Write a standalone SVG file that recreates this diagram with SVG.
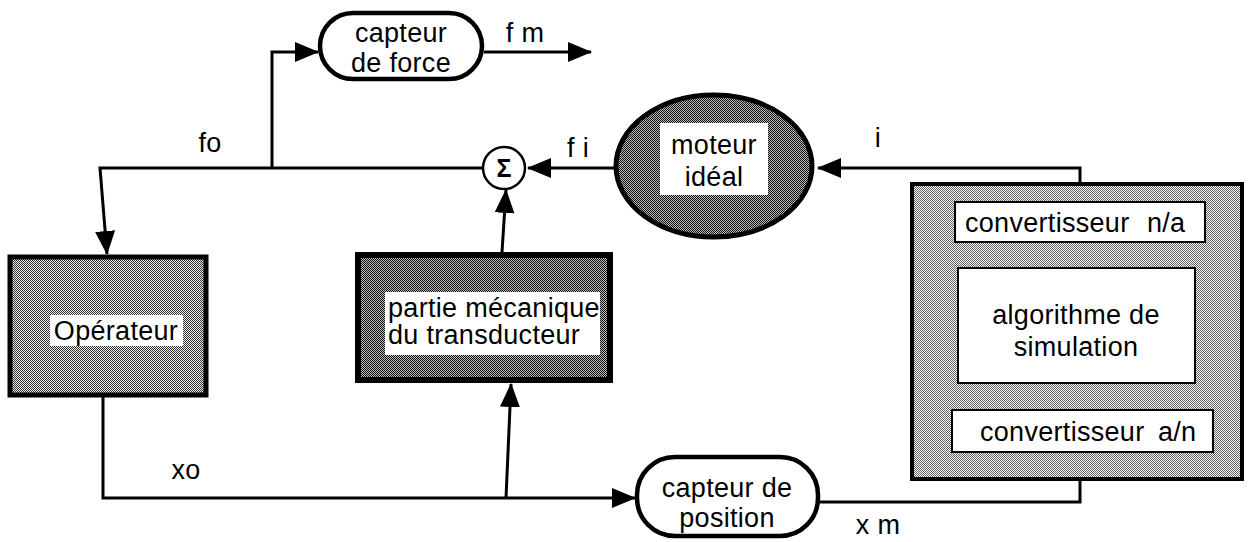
<svg xmlns="http://www.w3.org/2000/svg" width="1248" height="542" viewBox="0 0 1248 542">
<style>
text{font-family:"Liberation Sans",Arial,sans-serif;font-size:27px;fill:#000;letter-spacing:0.3px}
.c{text-anchor:middle}
.line{fill:none;stroke:#000;stroke-width:3}
.arr{marker-end:url(#ah)}
.white{fill:#fff;stroke:#000;stroke-width:2}
</style>
<defs>
<pattern id="pMed" width="2" height="2" patternUnits="userSpaceOnUse">
<rect width="2" height="2" fill="#ececec"/>
<rect width="1" height="1" fill="#333"/>
<rect x="1" y="1" width="1" height="1" fill="#333"/>
</pattern>
<pattern id="pDark" width="2" height="2" patternUnits="userSpaceOnUse">
<rect width="2" height="2" fill="#bbb"/>
<rect width="1" height="1" fill="#111"/>
<rect x="1" y="1" width="1" height="1" fill="#111"/>
</pattern>
<pattern id="pLight" width="2" height="2" patternUnits="userSpaceOnUse">
<rect width="2" height="2" fill="#f4f4f4"/>
<rect width="1" height="1" fill="#666"/>
<rect x="1" y="1" width="1" height="1" fill="#666"/>
</pattern>
<marker id="ah" markerUnits="userSpaceOnUse" markerWidth="24" markerHeight="20" refX="23" refY="10" orient="auto" viewBox="0 0 24 20">
<path d="M0,0 L24,10 L0,20 Z" fill="#000"/>
</marker>
</defs>

<g id="connectors">
<path class="line arr" d="M483,168 H100 L107,254"/>
<path class="line arr" d="M272,168 V52 H318"/>
<path class="line arr" d="M484,52 H591"/>
<path class="line arr" d="M615,168 H528"/>
<path class="line arr" d="M1080,202 V168 H818"/>
<path class="line" d="M1080,242 V268"/>
<path class="line" d="M1080,383 V410"/>
<path class="line" d="M1080,452 V502 H820"/>
<path class="line arr" d="M103,397 V498 H635"/>
<path class="line arr" d="M506,498 L511,384"/>
<path class="line arr" d="M502,252 L506,190"/>
</g>

<g id="capteur-force">
<rect x="320" y="13" width="162" height="66" rx="33" fill="#fff" stroke="#000" stroke-width="4.5"/>
<text class="c" x="401" y="42">capteur</text>
<text class="c" x="401" y="72">de force</text>
</g>

<g id="sigma">
<circle cx="504" cy="168" r="21" fill="#fff" stroke="#000" stroke-width="2.5"/>
<text class="c" x="504" y="177" style="font-size:25px;font-weight:bold;letter-spacing:0">Σ</text>
</g>

<g id="moteur">
<ellipse cx="714" cy="166" rx="98" ry="71" fill="url(#pDark)" stroke="#000" stroke-width="5"/>
<rect x="660" y="123" width="108" height="72" fill="#fff"/>
<text class="c" x="714" y="154">moteur</text>
<text class="c" x="714" y="186">idéal</text>
</g>

<g id="operateur">
<rect x="10" y="257" width="196" height="138" fill="url(#pMed)" stroke="#000" stroke-width="5"/>
<rect x="50" y="315" width="133" height="31" fill="#fff"/>
<text class="c" x="116" y="340">Opérateur</text>
</g>

<g id="partie">
<rect x="358" y="255" width="252" height="125" fill="url(#pDark)" stroke="#000" stroke-width="6"/>
<rect x="385" y="292" width="215" height="63" fill="#fff"/>
<text x="388" y="317">partie mécanique</text>
<text x="388" y="344">du transducteur</text>
</g>

<g id="systeme">
<rect x="912" y="184" width="330" height="295" fill="url(#pLight)" stroke="#000" stroke-width="4"/>
</g>

<g id="conv-na">
<rect x="955" y="202" width="250" height="40" class="white"/>
<text x="965" y="232">convertisseur</text>
<text x="1147" y="232">n/a</text>
</g>

<g id="algorithme">
<rect x="958" y="268" width="237" height="115" class="white"/>
<text class="c" x="1076" y="324">algorithme de</text>
<text class="c" x="1076" y="356">simulation</text>
</g>

<g id="conv-an">
<rect x="952" y="410" width="261" height="42" class="white"/>
<text x="980" y="441">convertisseur</text>
<text x="1158" y="441">a/n</text>
</g>

<g id="capteur-position">
<rect x="637" y="457" width="181" height="79" rx="38" fill="#fff" stroke="#000" stroke-width="4.5"/>
<text class="c" x="727" y="497">capteur de</text>
<text class="c" x="727" y="527">position</text>
</g>

<g id="labels">
<text class="c" x="210" y="152">fo</text>
<text class="c" x="525" y="42">f m</text>
<text class="c" x="578" y="157">f i</text>
<text class="c" x="878" y="147">i</text>
<text class="c" x="186" y="479">xo</text>
<text class="c" x="878" y="534">x m</text>
</g>
</svg>
